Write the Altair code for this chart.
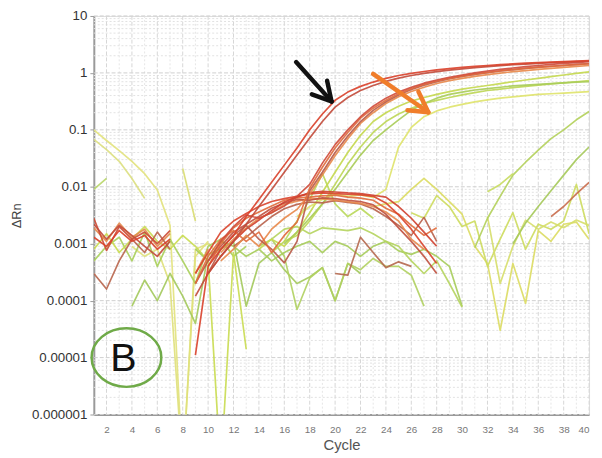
import altair as alt
import pandas as pd

# ---------------- axis ticks ----------------
x_ticks = list(range(2, 41, 2))
x_minor = list(range(3, 40, 2))
y_ticks = [0.000001, 0.00001, 0.0001, 0.001, 0.01, 0.1, 1, 10]
y_minor = [m * d for d in [0.000001, 0.00001, 0.0001, 0.001, 0.01, 0.1, 1] for m in range(2, 10)]

# ---------------- data (ΔRn per cycle; None = gap / not shown) ----------------
left_y1 = [0.1, 0.065, 0.043, 0.028, 0.017, 0.0088, 0.0021, 1e-7, 0.0006, 0.0011]
left_y2 = [0.068, 0.045, 0.028, 0.014, 0.0063]
left_g_short = [0.009, 0.014]
yel_short = [0.021, 0.0025]
nl_orange = [0.0019, 0.0011, 0.0023, 0.0013, 0.0018, 0.0009, 0.0015, None, 0.0003, 0.0008]
nl_brown = [0.0003, 0.00016, 0.0005, 0.0012, 0.0007, 0.0016, 0.0008]
nl_red = [0.0028, 0.00076, 0.002, 0.0012, 0.0016, 0.001, 0.0017]
nl_yg = [0.0008, 0.0015, 0.0007, 0.0012, 0.002, 0.0011, 0.0008, 0.0014, 0.0009, 0.0005, 1e-7, 0.0007, 1.4e-5]
nl_g = [0.0005, 0.0009, 0.0013, 0.0005, 0.0016, 0.0004, 0.0012, 0.0005, 0.0002, 0.0009, 0.0012, 0.0006, 0.0009]
nl_y3 = [0.0009, 0.0006, 0.0008, 0.0002, 1e-7, 0.0008, 0.001, 0.0006]
g1 = [8e-5, 0.00023, 0.0001, 0.0003, 0.00012, 4e-5, 0.00065, 0.0008, 0.0011, 8e-5, 0.00045,
      0.0007, 0.00035, 0.0002, 0.00026, 0.00038, 0.0001, 0.00045, 0.0003]
g2 = [0.0009, 0.0012, 0.0006, 7e-5, 0.00025, 0.00038, 0.0001, 0.00045, 0.00035, 0.00055,
      0.0004, 0.0004, 0.00028, 8e-5]
g3 = [0.0008, 0.0005, 0.0011, 0.0009, 0.0006, 0.0008, 0.0005, 0.0007, 0.0009, 0.0011, 0.0007,
      0.0011, 0.0009, 0.0006, 0.0009, 0.0011, 0.00075, 0.00065, 0.0008, 0.0006, 0.0004, 8e-5]
g4 = [0.0012, 0.0018, 0.002, 0.0015, 0.0019, 0.0018, 0.0017, 0.0019, 0.0015, 0.0011, 0.0009,
      0.0005, 0.0003, 0.0005, 0.0002, 7.7e-5]
g5 = [0.0011, 0.0025, 0.006, 0.017, 0.005, 0.003, 0.0042, 0.0028]
brown_mid = [0.0003, 0.00028, 0.0013, 0.0007, 0.00038, 0.00048, 0.0004]
n1 = [0.0045, 0.005, 0.0055, 0.009, 0.014, 0.009, 0.0055, 0.0033, 0.0009, 0.00045, 3e-5,
      0.00045, 9e-5, 0.0017, 0.0011, 0.0022, 0.0024, 0.0012]
n2 = [0.0035, 0.0028, 0.007, 0.0045, 0.002, 0.0025, 0.0004, 0.0012, 0.0035, 0.0008, 0.0022,
      0.0018, 0.0025, 0.011, 0.0015]
n3 = [0.003, 0.0002, 0.0009, 0.0026, 0.0018, 0.0024, 0.0019, 0.0026, 0.0021]
late_1 = [0.00085, 0.0028, 0.0068, 0.016, 0.027, 0.044, 0.07, 0.1, 0.15, 0.21]
late_s = [0.0082, 0.011, 0.017]
late_2 = [0.001, 0.0023, 0.0045, 0.0085, 0.016, 0.03, 0.05]
late_3 = [0.003, 0.0045, 0.0075, 0.012]
c1 = [0.0008, 0.0012, 0.0009, 0.0016, 0.0035, 0.008, 0.018, 0.04, 0.08, 0.14, 0.2, 0.26, 0.32,
      0.37, 0.42, 0.47, 0.52, 0.56, 0.6, 0.65, 0.7, 0.75, 0.8, 0.86, 0.92, 0.98, 1.04]
c4 = [0.0007, 0.0011, 0.0014, 0.0025, 0.005, 0.011, 0.025, 0.05, 0.09, 0.14, 0.19, 0.24, 0.29,
      0.33, 0.37, 0.41, 0.45, 0.49, 0.52, 0.55, 0.58, 0.61, 0.64, 0.67, 0.7, 0.73]
c2 = [0.001, 0.0016, 0.0028, 0.005, 0.009, 0.018, 0.036, 0.065, 0.1, 0.15, 0.22, 0.29, 0.36,
      0.42, 0.46, 0.5, 0.53, 0.56, 0.59, 0.61, 0.63, 0.65, 0.67, 0.69, 0.7]
c3 = [0.003, 0.0045, 0.006, 0.0075, 0.0068, 0.0072, 0.0065, 0.009, 0.05, 0.11, 0.17, 0.215,
      0.25, 0.28, 0.31, 0.335, 0.36, 0.38, 0.4, 0.42, 0.43, 0.44, 0.455, 0.47]
h1 = [0.0003, 0.0007, 0.0016, 0.0025, 0.0034, 0.0045, 0.0055, 0.0062, 0.0068, 0.0075, 0.0078,
      0.0076, 0.0074, 0.0072, 0.0068, 0.0052, 0.0032, 0.0018, 0.0009, 0.00045]
h2 = [0.0004, 0.001, 0.0019, 0.0028, 0.0036, 0.0046, 0.0058, 0.0064, 0.0066, 0.0069, 0.0071,
      0.0066, 0.0063, 0.0058, 0.0042, 0.0033, 0.0021, 0.0014, 0.0019]
h3 = [0.0002, 0.0005, 0.0009, 0.0016, 0.0022, 0.003, 0.0042, 0.0052, 0.006, 0.0058, 0.0064,
      0.0062, 0.0058, 0.0055, 0.0048, 0.0033, 0.0019, 0.0011, 0.0006, 0.0003]
h4 = [0.0007, 0.0012, 0.0019, 0.0028, 0.0035, 0.0049, 0.0056, 0.0062, 0.0061, 0.0058, 0.0055,
      0.0051, 0.0045, 0.0036, 0.0025, 0.0012, 0.0008]
h5 = [0.0003, 0.0006, 0.0011, 0.0018, 0.0026, 0.0038, 0.0054, 0.0066, 0.0079, 0.0083, 0.0081,
      0.0078, 0.0076, 0.0071, 0.0066, 0.0045, 0.0028, 0.0016, 0.0009]
h6 = [0.0009, 0.0013, 0.002, 0.003, 0.0041, 0.0049, 0.0054, 0.0052, 0.0057, 0.0053, 0.005,
      0.0041, 0.003, 0.0021, 0.0014, 0.0029, 0.0011]
b1 = [0.0002, 0.0006, 0.0012, 0.0017, 0.0011, 0.0016, 0.0007, 0.0014, 0.0024, 0.0095, 0.022,
      0.048, 0.09, 0.16, 0.24, 0.33, 0.43, 0.53, 0.63, 0.72, 0.8, 0.88, 0.95, 1.02, 1.08, 1.14,
      1.2, 1.25, 1.3, 1.35, 1.4, 1.45]
b2 = [0.0003, 0.0008, 0.0014, 0.0021, 0.0012, 0.0008, 0.00046, 0.0011, 0.0085, 0.018, 0.04,
      0.078, 0.14, 0.22, 0.31, 0.41, 0.51, 0.61, 0.7, 0.79, 0.87, 0.94, 1.01, 1.08, 1.14, 1.2,
      1.26, 1.31, 1.36, 1.41, 1.46]
b3 = [0.0005, 0.0008, 0.0014, 0.0009, 0.0018, 0.0028, 0.004, 0.0075, 0.016, 0.035, 0.07, 0.13,
      0.2, 0.29, 0.38, 0.47, 0.56, 0.65, 0.73, 0.8, 0.87, 0.93, 0.99, 1.05, 1.1, 1.15, 1.2,
      1.25, 1.3, 1.35]
b4 = [0.0005, 0.0011, 0.002, 0.0032, 0.0028, 0.0035, 0.0046, 0.0068, 0.011, 0.026, 0.055, 0.1,
      0.17, 0.26, 0.36, 0.46, 0.56, 0.66, 0.75, 0.84, 0.92, 1.0, 1.08, 1.15, 1.22, 1.29, 1.35,
      1.41, 1.47, 1.52, 1.57]
r1 = [0.0013, 0.0009, 0.0017, 0.0011, 0.0014, 0.0008, 0.0012, None, 1.1e-5, 0.0004, 0.0008,
      0.0014, 0.003, 0.006, 0.012, 0.024, 0.048, 0.1, 0.19, 0.33, 0.46, 0.58, 0.69, 0.8, 0.9,
      0.98, 1.06, 1.13, 1.19, 1.25, 1.3, 1.35, 1.4, 1.44, 1.48, 1.52, 1.55, 1.58, 1.61, 1.64]
r2 = [0.0022, 0.0012, 0.0021, 0.0014, 0.0009, 0.0006, 0.0011, None, 0.00012, 0.0003, 0.0006,
      0.0011, 0.0022, 0.0045, 0.009, 0.018, 0.036, 0.072, 0.14, 0.25, 0.37, 0.49, 0.6, 0.71,
      0.81, 0.9, 0.98, 1.05, 1.12, 1.18, 1.24, 1.29, 1.34, 1.39, 1.43, 1.47, 1.51, 1.55, 1.58, 1.62]

series_values = [left_y1, left_y2, left_g_short, yel_short, nl_y3, nl_g, nl_yg, g1, g2, g3, g4, g5,
                 n1, n2, n3, late_1, late_s, late_2, late_3, c1, c4, c2, c3,
                 nl_orange, nl_brown, nl_red, brown_mid, h6, h4, h3, h2, h1, h5,
                 b3, b2, b1, b4, r2, r1]
series_start = [1, 1, 1, 8, 4, 1, 1, 4, 14, 9, 15, 16,
                23, 26, 32, 31, 32, 34, 37, 14, 15, 16, 17,
                1, 1, 1, 20, 12, 11, 9, 10, 9, 10,
                11, 10, 9, 10, 1, 1]
series_color = ["#e2e27c", "#dcdf80", "#b8d668", "#d8dc70", "#dfe07a", "#a9cf5a", "#c9dc50",
                "#a3c95c", "#b0d060", "#a6cc5a", "#b5d45e", "#b9d85a",
                "#dcdc62", "#cddb5e", "#d6de6a", "#b3d05a", "#c8dc60", "#a5c95a", "#c86a4a",
                "#c4d84e", "#bcd654", "#a9cc58", "#dfe36a",
                "#e3894d", "#b8654c", "#cc4a35", "#b5684e", "#b8604a", "#e88a4c", "#c0503e",
                "#e06a3a", "#d9442c", "#cf3f2e",
                "#e8884a", "#b85a48", "#e06a3c", "#cf4a3a", "#c24a3a", "#d9402a"]

# arrows (data coordinates: cycle, ΔRn)
arrow_x1 = [16.93, 19.37, 18.17, 22.99, 26.56, 25.70]
arrow_y1 = [1.55, 0.73, 0.42, 0.96, 0.47, 0.221]
arrow_x2 = [19.72, 19.72, 19.72, 27.34, 27.34, 27.34]
arrow_y2 = [0.316, 0.316, 0.316, 0.204, 0.204, 0.204]
arrow_col = ["#111111"] * 3 + ["#f07d2a"] * 3

# ---------------- build long table ----------------
rows = []
for k, (vals, start, col) in enumerate(zip(series_values, series_start, series_color)):
    seg = 0
    for i, v in enumerate(vals):
        if v is None:
            seg += 1
            continue
        rows.append({"seg": f"s{k:02d}_{seg}", "cycle": start + i, "value": v,
                     "color": col, "k": k})
df = pd.DataFrame(rows)

W, H = 502, 404
xs = alt.Scale(type="linear", domain=[1, 40], nice=False, zero=False)
ys = alt.Scale(type="log", domain=[0.000001, 10], nice=False)

x_axis = alt.Axis(values=x_ticks, format="d", grid=False,
                  labelFontSize=10, labelColor="#777", ticks=False, labelPadding=10,
                  titleFontSize=15, titleFontWeight="normal", titleColor="#555",
                  titlePadding=3, domainColor="#9a9a9a", domainWidth=2,
                  labelFont="Liberation Sans", titleFont="Liberation Sans")
y_axis = alt.Axis(values=y_ticks, grid=False,
                  labelExpr="datum.value >= 1 ? format(datum.value, 'd') : format(datum.value, '.6~f')",
                  labelFontSize=13.5, labelColor="#333", tickColor="#999", tickSize=4,
                  labelPadding=3, titleFontSize=13, titleFontWeight="normal",
                  titleColor="#444", titlePadding=8, domainColor="#9a9a9a",
                  domainWidth=2, labelFont="Liberation Sans", titleFont="Liberation Sans")

def X(field, **kw):
    return alt.X(field, scale=xs, axis=x_axis, title="Cycle", **kw)

def Y(field, **kw):
    return alt.Y(field, scale=ys, axis=y_axis, title="ΔRn", **kw)

def hrule(vals, color, dash, width=1):
    return alt.Chart(pd.DataFrame({"v": vals})).mark_rule(
        color=color, strokeDash=dash, strokeWidth=width
    ).encode(y=Y("v:Q"))

def vrule(vals, color, dash, width=1):
    return alt.Chart(pd.DataFrame({"v": vals})).mark_rule(
        color=color, strokeDash=dash, strokeWidth=width
    ).encode(x=X("v:Q"))

grid = (hrule(y_minor, "#e2e2e2", [2, 2]) + vrule(x_minor, "#e6e6e6", [2, 2])
        + hrule(y_ticks, "#cfcfcf", [4, 2]) + vrule(x_ticks, "#d6d6d6", [4, 2]))

lines = alt.Chart(df).mark_line(strokeWidth=1.7, opacity=0.9, clip=True,
                                strokeJoin="round").encode(
    x=X("cycle:Q"),
    y=Y("value:Q"),
    detail="seg:N",
    order="cycle:Q",
    color=alt.Color("color:N", scale=None),
)

adf = pd.DataFrame({"x1": arrow_x1, "y1": arrow_y1, "x2": arrow_x2, "y2": arrow_y2,
                    "c": arrow_col})
arrows = alt.Chart(adf).mark_rule(strokeWidth=4.5, strokeCap="round").encode(
    x=X("x1:Q"), y=Y("y1:Q"),
    x2="x2:Q", y2="y2:Q", color=alt.Color("c:N", scale=None))

ann = pd.DataFrame({"x": [3.57], "y": [0.00001], "t": ["B"]})
ellipse = alt.Chart(ann).mark_point(
    shape="M -1.19 0 A 1.19 1 0 1 0 1.19 0 A 1.19 1 0 1 0 -1.19 0 Z",
    size=3528, filled=False, stroke="#6faa48", strokeWidth=2.5, opacity=1
).encode(x=X("x:Q"), y=Y("y:Q"))
btext = alt.Chart(ann).mark_text(fontSize=40, font="Liberation Sans", color="#111",
                                 baseline="middle", align="center", dx=-3, dy=2).encode(
    x=X("x:Q"), y=Y("y:Q"), text="t:N")

chart = alt.layer(grid, lines, arrows, ellipse, btext).properties(
    width=W, height=H,
    autosize=alt.AutoSizeParams(type="none"),
    padding={"left": 87, "top": 5, "right": 5, "bottom": 41},
).configure_view(stroke="#d5d5d5", strokeWidth=1).configure(background="white")

chart.save("out.html", embed_options={"renderer": "svg", "actions": False})
